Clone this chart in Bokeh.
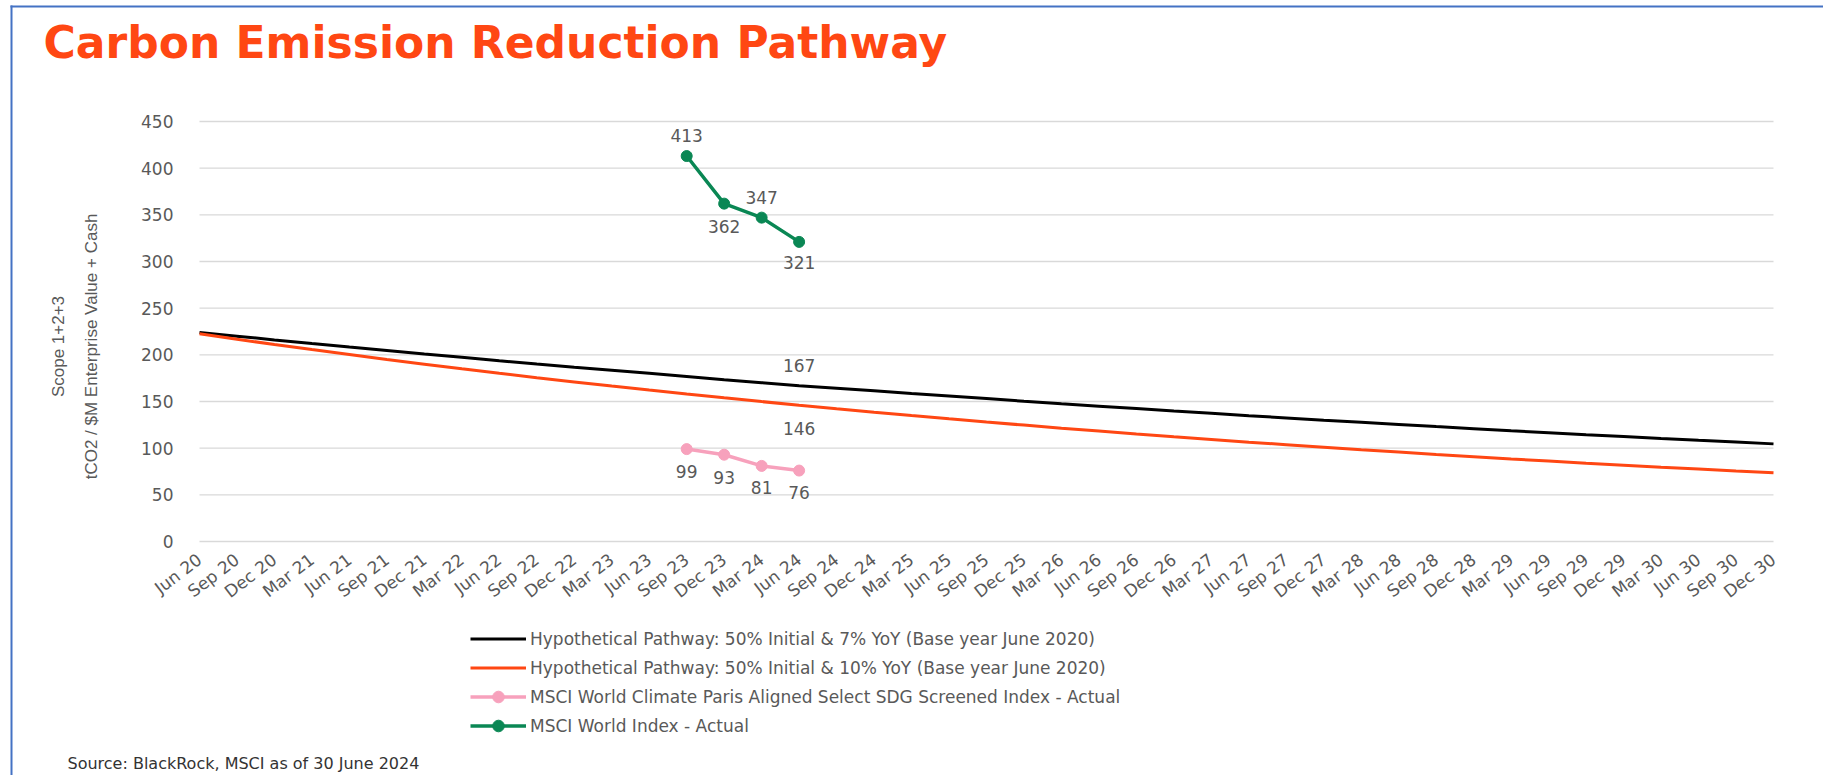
import math
from bokeh.plotting import figure
from bokeh.models import (Range1d, FixedTicker, Legend, LegendItem, Label,
                          BoxAnnotation, ColumnDataSource, AllLabels)
from bokeh.core.properties import value
from bokeh.embed import file_html
from bokeh.resources import INLINE

# ---------------- data ----------------
quarters = ["Jun 20", "Sep 20", "Dec 20",
            "Mar 21", "Jun 21", "Sep 21", "Dec 21",
            "Mar 22", "Jun 22", "Sep 22", "Dec 22",
            "Mar 23", "Jun 23", "Sep 23", "Dec 23",
            "Mar 24", "Jun 24", "Sep 24", "Dec 24",
            "Mar 25", "Jun 25", "Sep 25", "Dec 25",
            "Mar 26", "Jun 26", "Sep 26", "Dec 26",
            "Mar 27", "Jun 27", "Sep 27", "Dec 27",
            "Mar 28", "Jun 28", "Sep 28", "Dec 28",
            "Mar 29", "Jun 29", "Sep 29", "Dec 29",
            "Mar 30", "Jun 30", "Sep 30", "Dec 30"]

pathway_7 = [224.0, 220.0, 216.0, 212.1, 208.3, 204.6, 200.9, 197.3, 193.7, 190.2,
             186.8, 183.5, 180.2, 176.9, 173.4, 170.2, 167.0, 164.3, 161.4, 158.6,
             155.9, 153.1, 150.3, 147.6, 145.0, 142.4, 139.8, 137.3, 134.8, 132.4,
             130.0, 127.7, 125.4, 123.1, 120.9, 118.7, 116.6, 114.5, 112.5, 110.4,
             108.4, 106.5, 104.6]

pathway_10 = [222.5, 216.7, 211.1, 205.6, 200.3, 195.0, 190.0, 185.0, 180.2, 175.5,
              171.0, 166.5, 162.2, 158.0, 153.9, 149.9, 146.0, 142.2, 138.5, 134.9,
              131.4, 128.0, 124.7, 121.4, 118.3, 115.2, 112.2, 109.3, 106.4, 103.7,
              101.0, 98.3, 95.8, 93.3, 90.9, 88.5, 86.2, 83.9, 81.8, 79.6,
              77.6, 75.5, 73.6]

actual_quarters = ["Sep 23", "Dec 23", "Mar 24", "Jun 24"]
msci_world = [413, 362, 347, 321]
msci_paris = [99, 93, 81, 76]

labelled_quarter = "Jun 24"

legend_labels = [
    "Hypothetical Pathway: 50% Initial & 7% YoY (Base year June 2020)",
    "Hypothetical Pathway: 50% Initial & 10% YoY (Base year June 2020)",
    "MSCI World Climate Paris Aligned Select SDG Screened Index - Actual",
    "MSCI World Index - Actual",
]
title_text = "Carbon Emission Reduction Pathway"
source_text = "Source: BlackRock, MSCI as of 30 June 2024"
y_label_lines = ["Scope 1+2+3", "tCO2 / $M Enterprise Value + Cash"]
y_ticks = [0, 50, 100, 150, 200, 250, 300, 350, 400, 450]

# ---------------- styles / layout ----------------
BLACK = "#000000"
RED = "#FF4713"
PINK = "#F7A1BC"
GREEN = "#0A8754"
GRAY = "#595959"
FONT = "DejaVu Sans"

W, H = 1823, 775
# plot area inside the canvas (pixels from canvas left / bottom)
PL, PR = 199, 1773          # left / right of category span
PB, PT = 234, 654           # bottom (value 0) / top (value 450)

x_all = list(range(len(quarters)))
x_act = [quarters.index(q) for q in actual_quarters]

n = len(quarters) - 1
ppx = (PR - PL) / n
ppy = (PT - PB) / (y_ticks[-1] - y_ticks[0])
x_range = Range1d(-PL / ppx, n + (W - PR) / ppx)
y_range = Range1d(y_ticks[0] - PB / ppy, y_ticks[-1] + (H - PT) / ppy)

p = figure(width=W, height=H, output_backend="svg", toolbar_location=None,
           title=None, x_range=x_range, y_range=y_range,
           min_border=0, min_border_left=0, min_border_right=0,
           min_border_top=0, min_border_bottom=0)
p.outline_line_color = None
p.background_fill_color = "white"
p.border_fill_color = "white"
p.grid.visible = False

# horizontal gridlines spanning the category range only
p.segment(x0=[x_all[0]] * len(y_ticks), x1=[x_all[-1]] * len(y_ticks),
          y0=y_ticks, y1=y_ticks, line_color="#D9D9D9", line_width=1.3)

# x axis (fixed at value 0)
p.xaxis.fixed_location = y_ticks[0]
p.xaxis.ticker = FixedTicker(ticks=x_all)
p.xaxis.major_label_overrides = {i: q for i, q in enumerate(quarters)}
p.xaxis.major_label_orientation = 0.65
p.xaxis.major_label_policy = AllLabels()
p.xaxis.axis_line_color = None
p.xaxis.major_tick_line_color = None
p.xaxis.minor_tick_line_color = None
p.xaxis.major_tick_out = 0
p.xaxis.major_label_text_font = FONT
p.xaxis.major_label_text_font_size = "17px"
p.xaxis.major_label_text_color = GRAY
p.xaxis.major_label_standoff = 16

# y axis (fixed at first category)
p.yaxis.fixed_location = x_all[0]
p.yaxis.ticker = FixedTicker(ticks=y_ticks)
p.yaxis.axis_line_color = None
p.yaxis.major_tick_line_color = None
p.yaxis.minor_tick_line_color = None
p.yaxis.major_tick_out = 0
p.yaxis.major_label_standoff = 26
p.yaxis.major_label_text_font = FONT
p.yaxis.major_label_text_font_size = "17px"
p.yaxis.major_label_text_color = GRAY

# series
r_black = p.line(x_all, pathway_7, line_color=BLACK, line_width=3)
r_red = p.line(x_all, pathway_10, line_color=RED, line_width=3)
r_pink_l = p.line(x_act, msci_paris, line_color=PINK, line_width=3.5)
r_pink_m = p.scatter(x_act, msci_paris, size=11, marker="circle", fill_color=PINK, line_color=PINK)
r_green_l = p.line(x_act, msci_world, line_color=GREEN, line_width=3.5)
r_green_m = p.scatter(x_act, msci_world, size=11, marker="circle", fill_color=GREEN, line_color=GREEN)

# data labels
li = quarters.index(labelled_quarter)
lab_x = x_act + x_act + [li, li]
lab_y = list(msci_world) + list(msci_paris) + [pathway_7[li], pathway_10[li]]
lab_t = [str(int(v)) for v in lab_y]
lab_dy = [-21, 23, -20, 21, 22, 23, 22, 22, -20, 23]   # screen px offsets (style)
src = ColumnDataSource(dict(x=lab_x, y=lab_y, t=lab_t, dy=lab_dy))
p.text(x="x", y="y", text="t", y_offset="dy", source=src, text_align="center",
       text_baseline="middle", text_font=value(FONT), text_font_size="17px",
       text_color=GRAY)

# legend
legend = Legend(items=[
    LegendItem(label=legend_labels[0], renderers=[r_black]),
    LegendItem(label=legend_labels[1], renderers=[r_red]),
    LegendItem(label=legend_labels[2], renderers=[r_pink_l, r_pink_m]),
    LegendItem(label=legend_labels[3], renderers=[r_green_l, r_green_m]),
], location=(470, 35), orientation="vertical", glyph_width=56, glyph_height=29,
    label_height=29, label_standoff=4, spacing=0, padding=0, margin=0,
    border_line_color=None, background_fill_alpha=0,
    label_text_font=FONT, label_text_font_size="17px", label_text_color=GRAY)
p.add_layout(legend)

# title, axis title, source
p.add_layout(Label(x=43, y=H - 42, x_units="screen", y_units="screen", text=title_text,
                   text_font=FONT, text_font_style="bold", text_font_size="44px",
                   text_color=RED, text_baseline="middle"))
for lx, line in zip([58, 91], y_label_lines):
    p.add_layout(Label(x=lx, y=429, x_units="screen", y_units="screen", text=line,
                       angle=math.pi / 2, text_align="center", text_baseline="middle",
                       text_font="Liberation Sans", text_font_size="17px",
                       text_color=GRAY))
p.add_layout(Label(x=67, y=12, x_units="screen", y_units="screen", text=source_text,
                   text_font=FONT, text_font_size="16px", text_color="#333333",
                   text_baseline="middle"))

# blue frame lines (left and top)
for l, r, b, t in [(10, 12, 0, H - 5), (10, W, H - 7, H - 5)]:
    p.add_layout(BoxAnnotation(left=l, right=r, bottom=b, top=t,
                               left_units="screen", right_units="screen",
                               top_units="screen", bottom_units="screen",
                               fill_color="#4472C4", fill_alpha=1, line_color=None))

open("out.html", "w").write(file_html(p, INLINE))
